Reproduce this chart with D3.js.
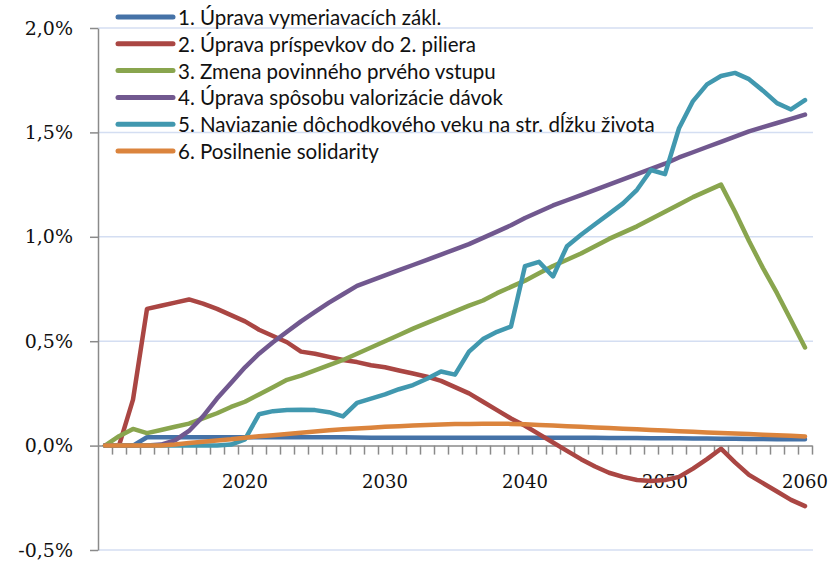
<!DOCTYPE html>
<html>
<head>
<meta charset="utf-8">
<script src="https://cdn.jsdelivr.net/npm/d3@7"></script>
<style>
  body { margin: 0; background: #fff; }
</style>
</head>
<body>
<div id="chart"></div>
<script>
// years on the category axis
var years = d3.range(2010, 2061);
var yearLabels = [2020, 2030, 2040, 2050, 2060];
var yTicks = [-0.5, 0, 0.5, 1.0, 1.5, 2.0];

var seriesNames = [
    "1. Úprava vymeriavacích zákl.",
    "2. Úprava príspevkov do 2. piliera",
    "3. Zmena povinného prvého vstupu",
    "4. Úprava spôsobu valorizácie dávok",
    "5. Naviazanie dôchodkového veku na str. dĺžku života",
    "6. Posilnenie solidarity"
];
var seriesColors = ["#4572a7", "#aa4643", "#89a54e", "#71588f", "#4198af", "#db843d"];

// values in %, 2010 .. 2060
var vymeriavacie = [0, 0, 0, 0.04, 0.04, 0.04, 0.04, 0.04, 0.04, 0.04,
    0.04, 0.04, 0.04, 0.04, 0.04, 0.04, 0.04, 0.04, 0.039, 0.038,
    0.038, 0.038, 0.038, 0.038, 0.038, 0.038, 0.038, 0.038, 0.038, 0.038,
    0.038, 0.038, 0.038, 0.037, 0.037, 0.037, 0.036, 0.036, 0.036, 0.035,
    0.035, 0.035, 0.034, 0.034, 0.033, 0.033, 0.032, 0.032, 0.031, 0.031, 0.03];
var prispevky = [0, 0, 0.22, 0.655, 0.67, 0.685, 0.70, 0.68, 0.655, 0.625,
    0.595, 0.555, 0.525, 0.495, 0.45, 0.44, 0.425, 0.41, 0.40, 0.385,
    0.375, 0.36, 0.345, 0.33, 0.31, 0.28, 0.25, 0.21, 0.17, 0.13,
    0.095, 0.055, 0.015, -0.025, -0.065, -0.10, -0.13, -0.15, -0.165, -0.17,
    -0.165, -0.15, -0.11, -0.065, -0.015, -0.08, -0.14, -0.18, -0.22, -0.26, -0.29];
var vstup = [0, 0.045, 0.08, 0.06, 0.075, 0.09, 0.105, 0.13, 0.155, 0.185,
    0.21, 0.245, 0.28, 0.315, 0.335, 0.36, 0.385, 0.41, 0.44, 0.47,
    0.50, 0.53, 0.56, 0.588, 0.615, 0.643, 0.67, 0.695, 0.73, 0.76,
    0.79, 0.825, 0.86, 0.89, 0.92, 0.955, 0.99, 1.02, 1.05, 1.085,
    1.12, 1.155, 1.19, 1.22, 1.25, 1.12, 0.98, 0.85, 0.73, 0.60, 0.47];
var valorizacia = [0, 0, 0, 0, 0.005, 0.025, 0.07, 0.14, 0.225, 0.30,
    0.375, 0.44, 0.495, 0.545, 0.595, 0.64, 0.685, 0.725, 0.765, 0.79,
    0.815, 0.84, 0.865, 0.89, 0.915, 0.94, 0.965, 0.995, 1.025, 1.055,
    1.09, 1.12, 1.15, 1.175, 1.2, 1.225, 1.25, 1.275, 1.3, 1.325,
    1.35, 1.38, 1.405, 1.43, 1.455, 1.48, 1.505, 1.525, 1.545, 1.565, 1.585];
var vek = [0, 0, 0, 0, 0, 0, 0, 0, 0, 0.005,
    0.03, 0.15, 0.165, 0.17, 0.172, 0.17, 0.16, 0.14, 0.205, 0.225,
    0.245, 0.27, 0.29, 0.32, 0.355, 0.34, 0.45, 0.51, 0.545, 0.57,
    0.86, 0.88, 0.81, 0.955, 1.01, 1.06, 1.11, 1.16, 1.225, 1.32,
    1.30, 1.52, 1.65, 1.73, 1.77, 1.785, 1.755, 1.70, 1.64, 1.61, 1.655];
var solidarita = [0, 0, 0, 0, 0, 0.005, 0.012, 0.018, 0.024, 0.03,
    0.038, 0.045, 0.05, 0.056, 0.062, 0.068, 0.073, 0.078, 0.082, 0.086,
    0.09, 0.093, 0.096, 0.099, 0.101, 0.103, 0.104, 0.105, 0.105, 0.104,
    0.102, 0.099, 0.096, 0.093, 0.09, 0.087, 0.084, 0.081, 0.078, 0.075,
    0.072, 0.069, 0.066, 0.063, 0.06, 0.058, 0.055, 0.052, 0.05, 0.047, 0.044];

function main(){
    var values = [vymeriavacie, prispevky, vstup, valorizacia, vek, solidarita];
    buildChart(values);
}

function fmtPct(d){
    return (d < 0 ? "-" : "") + Math.abs(d).toFixed(1).replace(".", ",") + "%";
}

function buildChart(values){
    var width = 835, height = 564;
    var left = 98, right = 812, top = 28, bottom = 550;

    var svg = d3.select("#chart")
        .append("svg")
            .attr("width", width)
            .attr("height", height)
            .style("background", "#fff");

    var xScale = d3.scaleBand().domain(years).range([left, right]);
    var xEdges = d3.scaleLinear().domain([2009.5, 2060.5]).range([left, right]);
    var yScale = d3.scaleLinear().domain([-0.5, 2.0]).range([bottom, top]);

    // gridlines
    svg.append("g")
        .selectAll("line")
        .data(yTicks.filter(function(d){ return d != 0; }))
        .enter().append("line")
            .attr("x1", left)
            .attr("x2", right + 1)
            .attr("y1", function(d){ return yScale(d); })
            .attr("y2", function(d){ return yScale(d); })
            .attr("stroke", "#d4def2")
            .attr("stroke-width", 1.5);

    // y axis
    var yAxis = svg.append("g")
        .attr("transform", "translate(" + left + ",0)")
        .call(d3.axisLeft(yScale).tickValues(yTicks).tickSize(8).tickSizeOuter(0).tickFormat(fmtPct));
    yAxis.selectAll("path, line").attr("stroke", "#8a8a8a").attr("stroke-width", 1.5);
    yAxis.selectAll("text")
        .attr("x", -25)
        .attr("fill", "#111")
        .style("font-family", "'DejaVu Serif', serif")
        .style("font-size", "19px");

    // x axis: ticks between categories
    var xAxis = svg.append("g")
        .attr("transform", "translate(0," + yScale(0) + ")")
        .call(d3.axisBottom(xEdges).tickValues(d3.range(2010.5, 2061, 1)).tickSize(9).tickSizeOuter(0).tickFormat(""));
    xAxis.selectAll("path, line").attr("stroke", "#8a8a8a").attr("stroke-width", 1.5);

    var xLabels = svg.append("g")
        .attr("transform", "translate(0," + yScale(0) + ")")
        .call(d3.axisBottom(xScale).tickValues(yearLabels).tickSize(0).tickPadding(30));
    xLabels.select(".domain").remove();
    xLabels.selectAll("text")
        .attr("fill", "#111")
        .style("font-family", "'DejaVu Serif', serif")
        .style("font-size", "18px");

    // lines
    var line = d3.line()
        .x(function(d, i){ return xScale(years[i]) + xScale.bandwidth() / 2; })
        .y(function(d){ return yScale(d); });

    for (var s = 0; s < values.length; s++){
        svg.append("path")
            .datum(values[s])
            .attr("d", line)
            .attr("fill", "none")
            .attr("stroke", seriesColors[s])
            .attr("stroke-width", 4.5)
            .attr("stroke-linejoin", "round")
            .attr("stroke-linecap", "round");
    }

    // legend
    var legend = svg.append("g")
        .selectAll("g")
        .data(seriesNames)
        .enter().append("g")
            .attr("transform", function(d, i){ return "translate(118," + (17 + i * 26.8) + ")"; });
    legend.append("line")
        .attr("x1", 0).attr("x2", 55)
        .attr("stroke", function(d, i){ return seriesColors[i]; })
        .attr("stroke-width", 5)
        .attr("stroke-linecap", "round");
    legend.append("text")
        .attr("x", 60)
        .attr("y", 8)
        .attr("fill", "#111")
        .style("font-family", "Lato, sans-serif")
        .style("font-size", "20.5px")
        .text(function(d){ return d; });
}

main();
</script>
</body>
</html>
